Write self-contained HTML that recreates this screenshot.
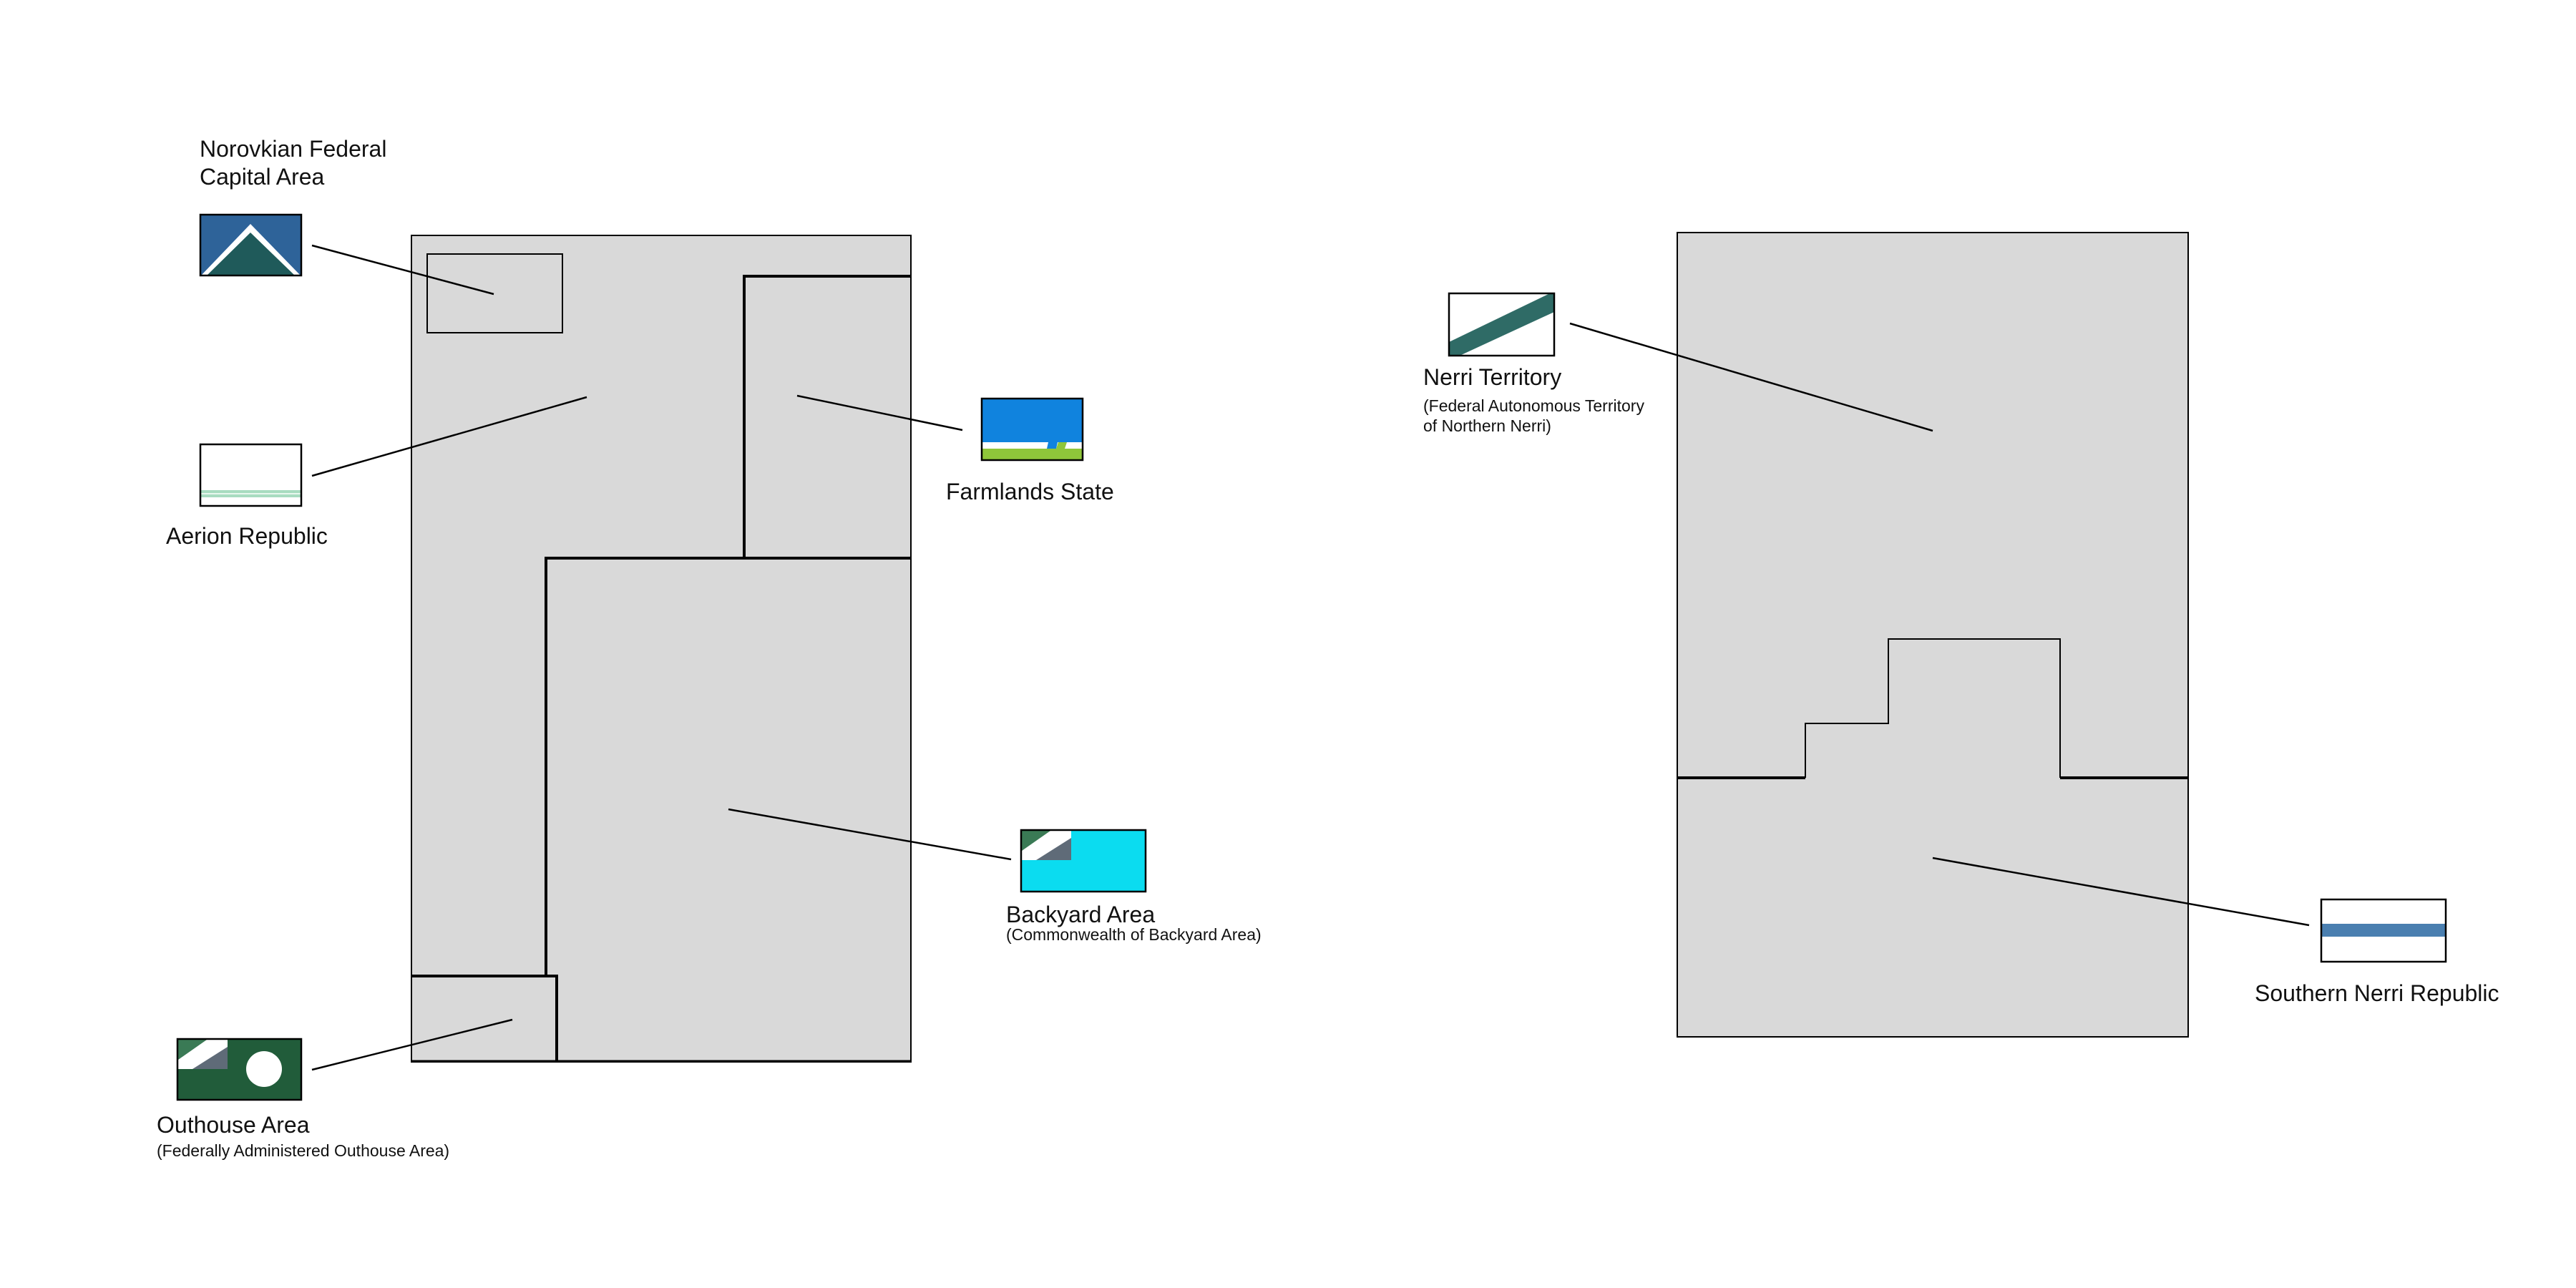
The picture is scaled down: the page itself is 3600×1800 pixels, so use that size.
<!DOCTYPE html>
<html><head><meta charset="utf-8"><style>
html,body{margin:0;padding:0;background:#fff;}
svg{display:block;}
text{font-family:"Liberation Sans",sans-serif;fill:#111;}
.l{font-size:32px;}
.s{font-size:23px;}
</style></head><body>
<svg width="3600" height="1800" viewBox="0 0 3600 1800" xmlns="http://www.w3.org/2000/svg">
<rect width="3600" height="1800" fill="#fff"/>
<!-- Left map -->
<rect x="575" y="329" width="698" height="1155" fill="#d9d9d9" stroke="#000" stroke-width="2"/>
<rect x="597" y="355" width="189" height="110" fill="none" stroke="#000" stroke-width="2"/>
<polyline points="1273,386 1040,386 1040,780 1273,780" fill="none" stroke="#000" stroke-width="4"/>
<polyline points="1040,780 763,780 763,1364 575,1364" fill="none" stroke="#000" stroke-width="4"/>
<polyline points="576,1364 778,1364 778,1484" fill="none" stroke="#000" stroke-width="4"/>
<line x1="575" y1="1483" x2="1273" y2="1483" stroke="#000" stroke-width="3"/>

<!-- connectors left -->
<g stroke="#000" stroke-width="2.5">
<line x1="436" y1="343" x2="690" y2="411"/>
<line x1="436" y1="665" x2="820" y2="555"/>
<line x1="1114" y1="553" x2="1345" y2="601"/>
<line x1="1018" y1="1131" x2="1413" y2="1201"/>
<line x1="436" y1="1495" x2="716" y2="1425"/>
</g>

<!-- Capital flag -->
<rect x="280" y="300" width="141" height="85" fill="#2e6399"/>
<polygon points="281,385 350,313 420,385" fill="#fff"/>
<polygon points="289,385 350,325 412,385" fill="#1f5a5a"/>
<rect x="280" y="300" width="141" height="85" fill="none" stroke="#000" stroke-width="2.5"/>
<text class="l" x="279" y="219">Norovkian Federal</text>
<text class="l" x="279" y="258">Capital Area</text>

<!-- Aerion flag -->
<rect x="280" y="621" width="141" height="86" fill="#fff"/>
<rect x="281" y="685" width="139" height="10" fill="#a8dcc0"/>
<rect x="281" y="689" width="139" height="2" fill="#e8f7ee"/>
<rect x="280" y="621" width="141" height="86" fill="none" stroke="#000" stroke-width="2.5"/>
<text class="l" x="232" y="760">Aerion Republic</text>

<!-- Farmlands flag -->
<rect x="1372" y="557" width="141" height="86" fill="#8fc63a"/>
<rect x="1372" y="557" width="141" height="61" fill="#1083de"/>
<rect x="1372" y="618" width="141" height="9" fill="#fff"/>
<polygon points="1465,618 1478,618 1476,627 1463,627" fill="#1083de"/>
<polygon points="1479,618 1491,618 1488,627 1476,627" fill="#8fc63a"/>
<rect x="1372" y="557" width="141" height="86" fill="none" stroke="#000" stroke-width="2.5"/>
<text class="l" x="1322" y="698">Farmlands State</text>

<!-- Backyard flag -->
<rect x="1427" y="1160" width="174" height="86" fill="#0bdcf0"/>
<g transform="translate(1428,1161)">
<rect width="69" height="41" fill="#fff"/>
<polygon points="0,0 40,0 0,28" fill="#3a7a55"/>
<polygon points="69,10 69,41 20,41" fill="#5f6b78"/>
</g>
<rect x="1427" y="1160" width="174" height="86" fill="none" stroke="#000" stroke-width="2.5"/>
<text class="l" x="1406" y="1289">Backyard Area</text>
<text class="s" x="1406" y="1314">(Commonwealth of Backyard Area)</text>

<!-- Outhouse flag -->
<rect x="248" y="1452" width="173" height="85" fill="#215c3a"/>
<g transform="translate(249,1453)">
<rect width="69" height="41" fill="#fff"/>
<polygon points="0,0 40,0 0,28" fill="#3a7a55"/>
<polygon points="69,10 69,41 20,41" fill="#5f6b78"/>
</g>
<ellipse cx="369" cy="1494" rx="25" ry="25" fill="#fff"/>
<rect x="248" y="1452" width="173" height="85" fill="none" stroke="#000" stroke-width="2.5"/>
<text class="l" x="219" y="1583">Outhouse Area</text>
<text class="s" x="219" y="1616">(Federally Administered Outhouse Area)</text>

<!-- Right map -->
<rect x="2344" y="325" width="714" height="1124" fill="#d9d9d9" stroke="#000" stroke-width="2"/>
<polyline points="2344,1086 2523,1086 2523,1011 2639,1011 2639,893 2879,893 2879,1086 3058,1086" fill="none" stroke="#000" stroke-width="2"/>
<line x1="2344" y1="1087" x2="2523" y2="1087" stroke="#000" stroke-width="4"/>
<line x1="2879" y1="1087" x2="3058" y2="1087" stroke="#000" stroke-width="4"/>

<g stroke="#000" stroke-width="2.5">
<line x1="2194" y1="452" x2="2701" y2="602"/>
<line x1="2701" y1="1199" x2="3227" y2="1293"/>
</g>

<!-- Nerri flag -->
<rect x="2025" y="410" width="147" height="87" fill="#fff"/>
<polygon points="2025,478 2166,410 2172,410 2172,436 2040,497 2025,497" fill="#2f6b66"/>
<rect x="2025" y="410" width="147" height="87" fill="none" stroke="#000" stroke-width="2.5"/>
<text class="l" x="1989" y="538">Nerri Territory</text>
<text class="s" x="1989" y="575">(Federal Autonomous Territory</text>
<text class="s" x="1989" y="603">of Northern Nerri)</text>

<!-- Southern flag -->
<rect x="3244" y="1257" width="174" height="87" fill="#fff"/>
<rect x="3244" y="1291" width="174" height="18" fill="#4a7fb0"/>
<rect x="3244" y="1257" width="174" height="87" fill="none" stroke="#000" stroke-width="2.5"/>
<text class="l" x="3151" y="1399">Southern Nerri Republic</text>
</svg>
</body></html>
